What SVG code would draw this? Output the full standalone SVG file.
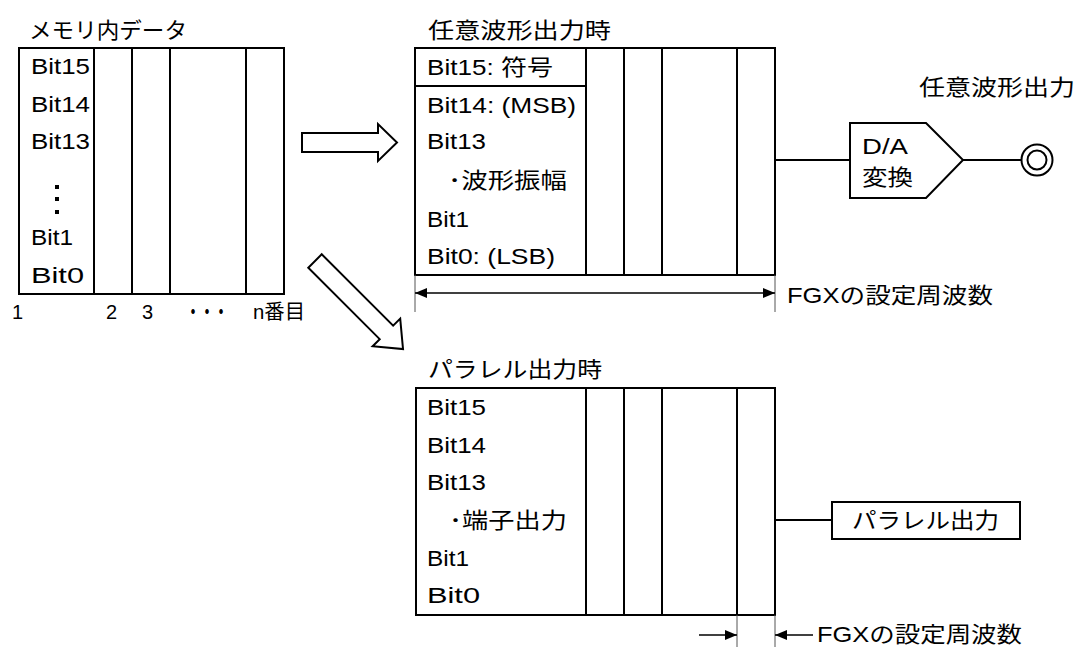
<svg xmlns="http://www.w3.org/2000/svg" width="1079" height="647" viewBox="0 0 1079 647">
<defs>
<style>
text{font-family:"Liberation Sans","Noto Sans CJK JP",sans-serif;font-size:22px;fill:#000}
.num{font-size:20px}
.box{fill:#fff;stroke:#000;stroke-width:2}
.ln{stroke:#000;stroke-width:2;fill:none}
.dim{stroke:#000;stroke-width:1.3;fill:none}
.ext{stroke:#555;stroke-width:1;fill:none}
.blk{fill:#fff;stroke:#000;stroke-width:2;stroke-linejoin:miter}
</style>
<marker id="ah" viewBox="0 0 12 10" refX="12" refY="5" markerWidth="12" markerHeight="10" markerUnits="userSpaceOnUse" orient="auto-start-reverse">
<path d="M0,0 L12,5 L0,10 Z" fill="#000"/>
</marker>
</defs>
<rect width="1079" height="647" fill="#fff"/>

<g id="memory">
<text x="29" y="38" textLength="158" lengthAdjust="spacingAndGlyphs">メモリ内データ</text>
<rect class="box" x="19" y="48" width="265" height="246"/>
<line class="ln" x1="94" y1="48" x2="94" y2="294"/>
<line class="ln" x1="132" y1="48" x2="132" y2="294"/>
<line class="ln" x1="170" y1="48" x2="170" y2="294"/>
<line class="ln" x1="246" y1="48" x2="246" y2="294"/>
<text x="31" y="74" textLength="59" lengthAdjust="spacingAndGlyphs">Bit15</text>
<text x="31" y="112" textLength="59" lengthAdjust="spacingAndGlyphs">Bit14</text>
<text x="31" y="149" textLength="59" lengthAdjust="spacingAndGlyphs">Bit13</text>
<rect x="55" y="185" width="4" height="4"/>
<rect x="55" y="197" width="4" height="4"/>
<rect x="55" y="210" width="4" height="4"/>
<text x="31" y="245" textLength="42" lengthAdjust="spacingAndGlyphs">Bit1</text>
<text x="31" y="283" textLength="53" lengthAdjust="spacingAndGlyphs">Bit0</text>
<text class="num" x="12" y="319">1</text>
<text class="num" x="106" y="319">2</text>
<text class="num" x="142" y="319">3</text>
<text class="num" x="186" y="319" font-weight="bold" textLength="42" lengthAdjust="spacingAndGlyphs">・・・</text>
<text class="num" x="253" y="319" textLength="52" lengthAdjust="spacingAndGlyphs">n番目</text>
</g>

<g id="arbitrary">
<text x="428" y="38" textLength="183" lengthAdjust="spacingAndGlyphs">任意波形出力時</text>
<rect class="box" x="415" y="48" width="360" height="227"/>
<line class="ln" x1="586" y1="48" x2="586" y2="275"/>
<line class="ln" x1="624" y1="48" x2="624" y2="275"/>
<line class="ln" x1="662" y1="48" x2="662" y2="275"/>
<line class="ln" x1="737" y1="48" x2="737" y2="275"/>
<line class="ln" x1="415" y1="86" x2="586" y2="86"/>
<text x="427" y="75" textLength="126" lengthAdjust="spacingAndGlyphs">Bit15: 符号</text>
<text x="427" y="113" textLength="149" lengthAdjust="spacingAndGlyphs">Bit14: (MSB)</text>
<text x="427" y="149" textLength="59" lengthAdjust="spacingAndGlyphs">Bit13</text>
<text x="448" y="188" textLength="119" lengthAdjust="spacingAndGlyphs">･波形振幅</text>
<text x="427" y="227" textLength="42" lengthAdjust="spacingAndGlyphs">Bit1</text>
<text x="427" y="264" textLength="128" lengthAdjust="spacingAndGlyphs">Bit0: (LSB)</text>
</g>

<g id="da">
<polygon class="box" points="850,123 926,123 963,160 926,198 850,198"/>
<text x="862" y="154" textLength="46" lengthAdjust="spacingAndGlyphs">D/A</text>
<text x="862" y="185" textLength="51" lengthAdjust="spacingAndGlyphs">変換</text>
</g>

<g id="output">
<circle cx="1037" cy="160" r="15.5" fill="#fff" stroke="#000" stroke-width="2"/>
<circle cx="1037" cy="160" r="9.5" fill="#fff" stroke="#000" stroke-width="2"/>
<text x="919" y="95" textLength="156" lengthAdjust="spacingAndGlyphs">任意波形出力</text>
</g>

<g id="parallel">
<text x="428" y="377" textLength="174" lengthAdjust="spacingAndGlyphs">パラレル出力時</text>
<rect class="box" x="416" y="388" width="359" height="227"/>
<line class="ln" x1="586" y1="388" x2="586" y2="615"/>
<line class="ln" x1="624" y1="388" x2="624" y2="615"/>
<line class="ln" x1="662" y1="388" x2="662" y2="615"/>
<line class="ln" x1="737" y1="388" x2="737" y2="615"/>
<text x="427" y="415" textLength="59" lengthAdjust="spacingAndGlyphs">Bit15</text>
<text x="427" y="453" textLength="59" lengthAdjust="spacingAndGlyphs">Bit14</text>
<text x="427" y="490" textLength="59" lengthAdjust="spacingAndGlyphs">Bit13</text>
<text x="449" y="528" textLength="118" lengthAdjust="spacingAndGlyphs">･端子出力</text>
<text x="427" y="566" textLength="42" lengthAdjust="spacingAndGlyphs">Bit1</text>
<text x="427" y="603" textLength="53" lengthAdjust="spacingAndGlyphs">Bit0</text>
</g>

<g id="parallel-out">
<rect class="box" x="832" y="502" width="188" height="37"/>
<text x="852" y="528" textLength="147" lengthAdjust="spacingAndGlyphs">パラレル出力</text>
</g>

<g id="connectors">
<polygon class="blk" points="302,133 378,133 378,124 397,142.5 378,161 378,152 302,152"/>
<polygon class="blk" transform="translate(315,261) rotate(45)" points="0,-9.5 101,-9.5 101,-19.5 124.5,0 101,19.5 101,9.5 0,9.5"/>
<line class="ln" x1="775" y1="160" x2="850" y2="160"/>
<line class="ln" x1="963" y1="160" x2="1021" y2="160"/>
<line class="ln" x1="775" y1="520" x2="832" y2="520"/>
<line class="ext" x1="415" y1="275" x2="415" y2="312"/>
<line class="ext" x1="775" y1="275" x2="775" y2="312"/>
<line class="dim" x1="415" y1="293" x2="775" y2="293" marker-start="url(#ah)" marker-end="url(#ah)"/>
<text x="787" y="303" textLength="206" lengthAdjust="spacingAndGlyphs">FGXの設定周波数</text>
<line class="ext" x1="737" y1="615" x2="737" y2="647"/>
<line class="ext" x1="775" y1="615" x2="775" y2="647"/>
<line class="dim" x1="699" y1="635" x2="737" y2="635" marker-end="url(#ah)"/>
<line class="dim" x1="813" y1="635" x2="775" y2="635" marker-end="url(#ah)"/>
<text x="817" y="642" textLength="205" lengthAdjust="spacingAndGlyphs">FGXの設定周波数</text>
</g>
</svg>
